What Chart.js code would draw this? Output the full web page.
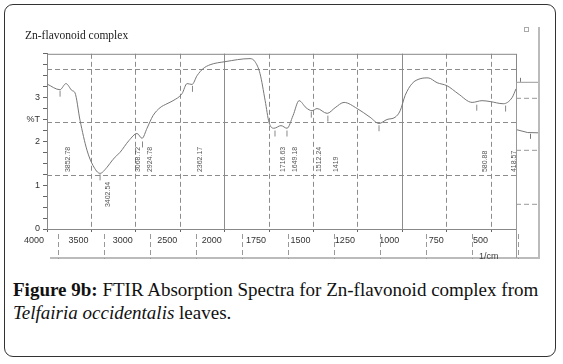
<!DOCTYPE html>
<html>
<head>
<meta charset="utf-8">
<script src="https://cdn.jsdelivr.net/npm/chart.js@4.4.0/dist/chart.umd.min.js"></script>
<style>
  body { margin: 0; background: #fff; }
  #wrap { position: relative; width: 563px; height: 364px; overflow: hidden; }
  .card { position: absolute; left: 4px; top: 4px; width: 550px; height: 351px; border: 1.5px solid #333; border-radius: 9px; }
  #chart-box { position: absolute; left: 0; top: 0; width: 563px; height: 270px; }
  .caption { position: absolute; left: 13px; top: 278px; width: 548px; font-family: 'Liberation Serif', serif; font-size: 19px; line-height: 23px; color: #111; }
  .caption b { font-weight: bold; }
</style>
</head>
<body>
<div id="wrap">
  <div class="card"></div>
  <div id="chart-box"><canvas id="c"></canvas></div>
  <div class="caption"><b>Figure 9b:</b> FTIR Absorption Spectra for Zn-flavonoid complex from <i>Telfairia occidentalis</i> leaves.</div>
</div>
<script>
// spectrum (wavenumber 1/cm, %T axis units)
const wavenumbers = [4000, 3854, 3786, 3718, 3685, 3628, 3550, 3482, 3403, 3324, 3257, 3178, 3077, 2986, 2930, 2874, 2806, 2727, 2649, 2581, 2480, 2423, 2367, 2311, 2243, 2164, 1998, 1857, 1829, 1801, 1772, 1750, 1722, 1683, 1649, 1615, 1581, 1542, 1508, 1480, 1423, 1378, 1328, 1254, 1181, 1131, 1086, 1041, 1012, 984, 945, 900, 855, 804, 748, 686, 607, 551, 506, 432, 382, 360];
const transmittance = [3.31, 3.18, 3.32, 3.16, 3.11, 2.48, 1.80, 1.45, 1.27, 1.41, 1.59, 1.75, 2.02, 2.18, 2.07, 2.30, 2.59, 2.77, 2.86, 2.93, 3.09, 3.32, 3.30, 3.50, 3.66, 3.75, 3.82, 3.89, 3.82, 3.55, 2.93, 2.43, 2.30, 2.36, 2.30, 2.59, 2.93, 2.77, 2.70, 2.75, 2.64, 2.77, 2.89, 2.75, 2.55, 2.41, 2.50, 2.55, 2.70, 3.05, 3.32, 3.43, 3.45, 3.34, 3.27, 3.09, 2.89, 2.93, 2.91, 2.86, 3.00, 3.20];

const xTickValues = [4000, 3500, 3000, 2500, 2000, 1750, 1500, 1250, 1000, 750, 500];
const solidGridValues = [2000, 1000];

const peakMarkWn = [3852.78, 3402.54, 2924.78, 2362.17, 1716.63, 1649.18, 1512.24, 1419, 1131, 580.88, 418.57];
const peakMarkT = [3.09, 1.18, 1.93, 3.20, 2.18, 2.18, 2.61, 2.52, 2.30, 2.77, 2.75];

const peakLabels = ['3852.78', '3402.54', '3068.72', '2924.78', '2362.17', '1716.63', '1649.18', '1512.24', '1419', '580.88', '418.57'];
const peakLabelLevel = [1.3, 0.5, 1.3, 1.3, 1.3, 1.3, 1.3, 1.3, 1.3, 1.3, 1.3];

// the instrument doubles the scale below 2000 1/cm
const BREAK = 2000;
const toAxis = wn => wn >= BREAK ? 4000 - wn : 2000 + (BREAK - wn) * 2;
const fromAxis = u => u <= 2000 ? 4000 - u : BREAK - (u - 2000) / 2;

const GRID = '#8c8c8c';
const SANS = "'Liberation Sans', Arial, sans-serif";

const frame = {
  id: 'frame',
  beforeDatasetsDraw(chart) {
    const { ctx, chartArea: a } = chart;
    ctx.save();
    ctx.strokeStyle = '#888';
    ctx.lineWidth = 1;
    ctx.strokeRect(a.left + 0.5, a.top + 0.5, a.right - a.left, a.bottom - a.top);
    // scanned leftovers around the plot
    ctx.strokeStyle = '#bbb';
    ctx.lineWidth = 2;
    ctx.beginPath();
    ctx.moveTo(a.left + 3, a.bottom + 29); ctx.lineTo(a.right + 24, a.bottom + 29);
    ctx.moveTo(a.right + 23, 27); ctx.lineTo(a.right + 23, a.bottom + 29);
    ctx.stroke();
    ctx.strokeStyle = '#999';
    ctx.lineWidth = 1;
    ctx.beginPath();
    ctx.moveTo(a.right + 0.5, a.top + 28); ctx.lineTo(a.right + 0.5, a.bottom + 29);
    ctx.moveTo(a.right, a.top + 28.5); ctx.lineTo(a.right + 22, a.top + 28.5);
    ctx.stroke();
    ctx.setLineDash([5, 3]);
    ctx.beginPath();
    for (const dy of [44, 96, 150]) { ctx.moveTo(a.right, a.top + dy + 0.5); ctx.lineTo(a.right + 22, a.top + dy + 0.5); }
    for (let x = a.left + 11; x < a.right + 10; x += 46) { ctx.moveTo(x + 0.5, a.bottom + 5); ctx.lineTo(x + 0.5, a.bottom + 30); }
    ctx.stroke();
    ctx.setLineDash([]);
    ctx.strokeStyle = '#777';
    ctx.beginPath();
    ctx.moveTo(a.right + 1, a.top + 76); ctx.quadraticCurveTo(a.right + 12, a.top + 80, a.right + 22, a.top + 79);
    ctx.moveTo(a.right + 4.5, a.top + 24); ctx.lineTo(a.right + 4.5, a.top + 28);
    ctx.moveTo(a.right + 14.5, a.top + 80); ctx.lineTo(a.right + 14.5, a.top + 85);
    ctx.stroke();
    ctx.strokeStyle = '#aaa';
    ctx.strokeRect(a.right + 8.5, 27.5, 4, 4);
    ctx.fillStyle = '#444';
    ctx.font = '9px ' + SANS;
    ctx.textAlign = 'left';
    ctx.textBaseline = 'middle';
    ctx.fillText('1/cm', a.right - 37, a.bottom + 28);
    ctx.restore();
  }
};

const peakText = {
  id: 'peakText',
  afterDatasetsDraw(chart) {
    const { ctx, scales } = chart;
    ctx.save();
    ctx.fillStyle = '#555';
    ctx.font = '7px ' + SANS;
    ctx.textAlign = 'left';
    ctx.textBaseline = 'middle';
    peakLabels.forEach((t, i) => {
      const x = scales.x.getPixelForValue(toAxis(parseFloat(t))) + 8;
      const y = scales.y.getPixelForValue(peakLabelLevel[i]);
      ctx.save();
      ctx.translate(x, y);
      ctx.rotate(-Math.PI / 2);
      ctx.fillText(t, 0, 0);
      ctx.restore();
    });
    ctx.restore();
  }
};

new Chart(document.getElementById('c'), {
  type: 'line',
  data: {
    datasets: [
      {
        data: wavenumbers.map((w, i) => ({ x: toAxis(w), y: transmittance[i] })),
        borderColor: '#777', borderWidth: 1, pointRadius: 0, fill: false,
        cubicInterpolationMode: 'monotone', xAxisID: 'x', yAxisID: 'y'
      },
      {
        type: 'scatter',
        data: peakMarkWn.map((w, i) => ({ x: toAxis(w), y: peakMarkT[i] })),
        pointStyle: 'line', rotation: 90, radius: 3, borderColor: '#888', borderWidth: 1,
        xAxisID: 'x', yAxisID: 'y'
      }
    ]
  },
  options: {
    responsive: true, maintainAspectRatio: false, animation: false,
    layout: { padding: { left: 25, right: 47, top: 29, bottom: 16 } },
    plugins: {
      legend: { display: false },
      tooltip: { enabled: false },
      title: {
        display: true, text: 'Zn-flavonoid complex', align: 'start', color: '#222',
        font: { family: "'Liberation Serif', serif", size: 11.5, weight: 'normal' },
        padding: { top: 0, bottom: 11 }
      }
    },
    scales: {
      x: {
        type: 'linear', position: 'bottom', min: toAxis(4000), max: toAxis(360),
        afterBuildTicks: s => { s.ticks = xTickValues.map(v => ({ value: toAxis(v) })); },
        afterFit: s => { s.height = 25; },
        ticks: {
          autoSkip: false, maxRotation: 0, align: 'end', labelOffset: -3, padding: 3,
          color: '#333', font: { family: SANS, size: 9 },
          callback: v => String(Math.round(fromAxis(v)))
        },
        grid: { color: GRID, tickLength: 3, tickColor: '#666' },
        border: { color: '#777', dash: [5, 3] }
      },
      xs: {
        type: 'linear', position: 'bottom', min: toAxis(4000), max: toAxis(360),
        afterBuildTicks: s => { s.ticks = solidGridValues.map(v => ({ value: toAxis(v) })); },
        afterFit: s => { s.height = 0; },
        ticks: { display: false },
        grid: { color: GRID, drawTicks: false },
        border: { display: false }
      },
      y: {
        min: 0, max: 4, position: 'left',
        afterFit: s => { s.width = 22; },
        ticks: {
          stepSize: 0.25, autoSkip: false, padding: 3, color: '#333', font: { family: SANS, size: 9 },
          callback: v => v === 2.5 ? '%T' : (Number.isInteger(v) && v < 4 ? String(v) : '')
        },
        grid: { drawOnChartArea: false, tickLength: 4, tickColor: '#666' },
        border: { color: '#777' }
      },
      yg: {
        min: 0, max: 3.29, position: 'left',
        afterBuildTicks: s => { s.ticks = [1, 2, 3].map(v => ({ value: v })); },
        afterFit: s => { s.width = 0; },
        ticks: { display: false },
        grid: { color: GRID, drawTicks: false },
        border: { display: false, dash: [5, 3] }
      }
    }
  },
  plugins: [frame, peakText]
});
</script>
</body>
</html>
